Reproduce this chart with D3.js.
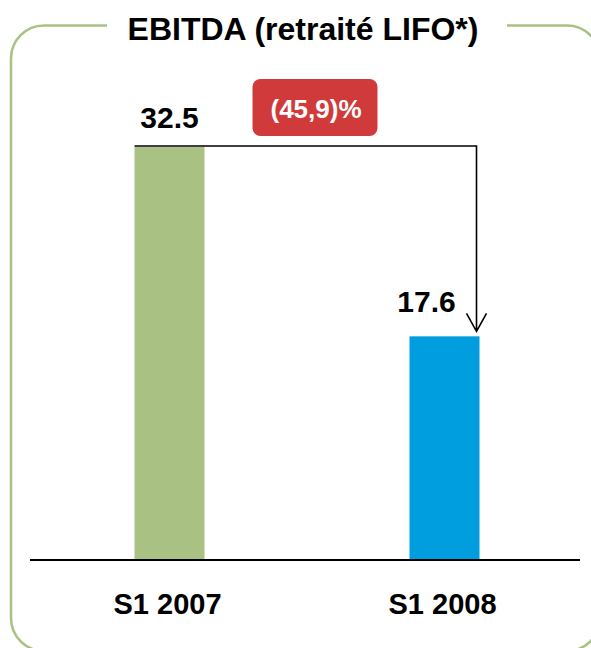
<!DOCTYPE html>
<html><head><meta charset="utf-8">
<script src="https://cdn.jsdelivr.net/npm/d3@7"></script>
<style>
html,body{margin:0;padding:0;background:#fff;overflow:hidden;}
text{font-family:"Liberation Sans",Arial,sans-serif;font-weight:bold;}
</style></head>
<body><svg id="c" width="591" height="648"></svg>
<script>
const title = "EBITDA (retraité LIFO*)";
const categories = ["S1 2007", "S1 2008"];
const values = [32.5, 17.6];
const valueLabels = ["32.5", "17.6"];
const changeLabel = "(45,9)%";
const barColors = ["#a9c283", "#009ddf"];

const W = 591, H = 648;
const svg = d3.select("#c");

// frame
const fx0 = 11, fy0 = 25.5, fx1 = 600, fy1 = 651, r = 33;
const gapL = 107, gapR = 507;
const p = d3.path();
p.moveTo(gapR, fy0);
p.lineTo(fx1 - r, fy0);
p.arcTo(fx1, fy0, fx1, fy0 + r, r);
p.lineTo(fx1, fy1 - r);
p.arcTo(fx1, fy1, fx1 - r, fy1, r);
p.lineTo(fx0 + r, fy1);
p.arcTo(fx0, fy1, fx0, fy1 - r, r);
p.lineTo(fx0, fy0 + r);
p.arcTo(fx0, fy0, fx0 + r, fy0, r);
p.lineTo(gapL, fy0);
svg.append("path").attr("d", p.toString()).attr("fill", "none")
  .attr("stroke", "#a9c283").attr("stroke-width", 2.5);

svg.append("text").attr("x", 303).attr("y", 39.5).attr("text-anchor", "middle")
  .attr("font-size", 32).attr("fill", "#000").text(title);

const x = d3.scalePoint().domain(categories).range([32, 582]).padding(0.5);
const y = d3.scaleLinear().domain([0, 32.5]).range([560, 147]);
const bw = 70;

svg.selectAll("rect.bar").data(values).join("rect").attr("class", "bar")
  .attr("x", (d, i) => x(categories[i]) - bw / 2)
  .attr("width", bw)
  .attr("y", d => y(d))
  .attr("height", d => y(0) - y(d))
  .attr("fill", (d, i) => barColors[i]);

// axis baseline
const axis = d3.axisBottom(x).tickSize(0).tickFormat("");
const ag = svg.append("g").attr("transform", `translate(0,${y(0)})`).call(axis);
ag.select(".domain").attr("d", "M30,0H580").attr("stroke", "#000").attr("stroke-width", 2);

svg.selectAll("text.cat").data(categories).join("text").attr("class", "cat")
  .attr("x", d => x(d) - 2).attr("y", 614).attr("text-anchor", "middle")
  .attr("font-size", 29).attr("fill", "#000").text(d => d);

svg.selectAll("text.val").data(values).join("text").attr("class", "val")
  .attr("x", (d, i) => x(categories[i]) + (i === 0 ? 0 : -18))
  .attr("y", (d, i) => y(d) - (i === 0 ? 19 : 24))
  .attr("text-anchor", "middle").attr("font-size", 30).attr("fill", "#000")
  .text((d, i) => valueLabels[i]);

// connector arrow
const ax0 = x(categories[0]) - bw / 2;
const ax1 = x(categories[1]) + bw / 2 - 3;
const ayTop = y(values[0]) - 1;
const ayTip = y(values[1]) - 5;
svg.append("path")
  .attr("d", `M${ax0},${ayTop}H${ax1}V${ayTip}M${ax1 - 10},${ayTip - 18}L${ax1},${ayTip}L${ax1 + 10},${ayTip - 18}`)
  .attr("fill", "none").attr("stroke", "#000").attr("stroke-width", 1.6);

// change badge
svg.append("rect").attr("x", 252.5).attr("y", 79).attr("width", 125).attr("height", 57)
  .attr("rx", 8).attr("fill", "#d13a3a");
svg.append("text").attr("x", 316).attr("y", 118).attr("text-anchor", "middle")
  .attr("font-size", 26).attr("fill", "#fff").text(changeLabel);
</script></body></html>
